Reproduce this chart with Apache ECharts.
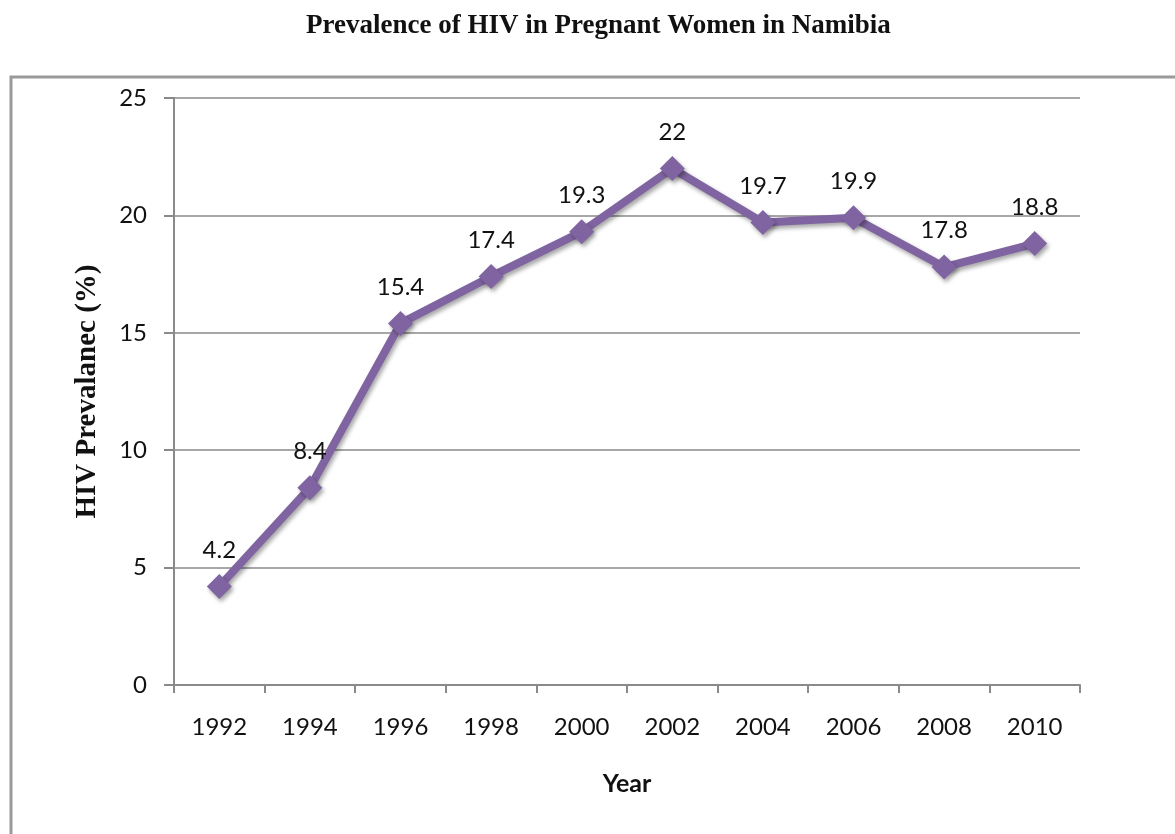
<!DOCTYPE html>
<html>
<head>
<meta charset="utf-8">
<title>Prevalence of HIV in Pregnant Women in Namibia</title>
<script src="https://cdn.jsdelivr.net/npm/echarts@6/dist/echarts.min.js"></script>
<style>
  html, body { margin: 0; padding: 0; background: #fff; }
  #chart { width: 1175px; height: 834px; }
</style>
</head>
<body>
<div id="chart"></div>
<script>
// data
var years = ['1992', '1994', '1996', '1998', '2000', '2002', '2004', '2006', '2008', '2010']
var prevalence = [4.2, 8.4, 15.4, 17.4, 19.3, 22, 19.7, 19.9, 17.8, 18.8]

var myChart = echarts.init(document.getElementById('chart'))

var option = {
  animation: false,
  backgroundColor: '#fff',
  title: {
    text: 'Prevalence of HIV in Pregnant Women in Namibia',
    left: 301,
    top: 8,
    textStyle: {
      fontFamily: 'Liberation Serif',
      fontWeight: 'bold',
      fontSize: 27,
      color: '#111'
    }
  },
  // outer chart frame
  graphic: [
    {
      type: 'rect',
      shape: { x: 11, y: 77, width: 1200, height: 800 },
      style: { fill: null, stroke: '#9a9a9a', lineWidth: 3 },
      silent: true
    }
  ],
  grid: {
    left: 174,
    right: 95,
    top: 98,
    bottom: 149
  },
  xAxis: {
    type: 'category',
    data: years,
    boundaryGap: true,
    name: 'Year',
    nameLocation: 'middle',
    nameGap: 86,
    nameTextStyle: {
      fontFamily: 'Lato',
      fontWeight: 'bold',
      fontSize: 25,
      color: '#111'
    },
    axisLine: { lineStyle: { color: '#8a8a8a', width: 2 } },
    axisTick: { show: true, length: 8, alignWithLabel: false, lineStyle: { color: '#8a8a8a', width: 2 } },
    axisLabel: {
      margin: 30,
      fontFamily: 'Lato',
      fontSize: 24,
      color: '#111'
    }
  },
  yAxis: {
    type: 'value',
    min: 0,
    max: 25,
    interval: 5,
    name: 'HIV Prevalanec (%)',
    nameLocation: 'middle',
    nameGap: 72,
    nameRotate: 90,
    nameTextStyle: {
      fontFamily: 'Liberation Serif',
      fontWeight: 'bold',
      fontSize: 29,
      color: '#111'
    },
    axisLine: { show: true, lineStyle: { color: '#8a8a8a', width: 2 } },
    axisTick: { show: true, length: 10, lineStyle: { color: '#8a8a8a', width: 2 } },
    axisLabel: {
      margin: 27,
      fontFamily: 'Lato',
      fontSize: 24,
      color: '#111'
    },
    splitLine: { show: true, lineStyle: { color: '#8a8a8a', width: 1.5 } }
  },
  series: [
    {
      name: 'HIV Prevalence',
      type: 'line',
      data: prevalence,
      symbol: 'diamond',
      symbolSize: 25,
      lineStyle: {
        color: '#8064a2',
        width: 8,
        shadowColor: 'rgba(0,0,0,0.35)',
        shadowBlur: 4,
        shadowOffsetX: 2,
        shadowOffsetY: 3
      },
      itemStyle: {
        color: '#8064a2',
        shadowColor: 'rgba(0,0,0,0.35)',
        shadowBlur: 4,
        shadowOffsetX: 2,
        shadowOffsetY: 3
      },
      label: {
        show: true,
        position: 'top',
        distance: 12,
        fontFamily: 'Lato',
        fontSize: 24,
        color: '#111'
      }
    }
  ]
}

option && myChart.setOption(option)
</script>
</body>
</html>
